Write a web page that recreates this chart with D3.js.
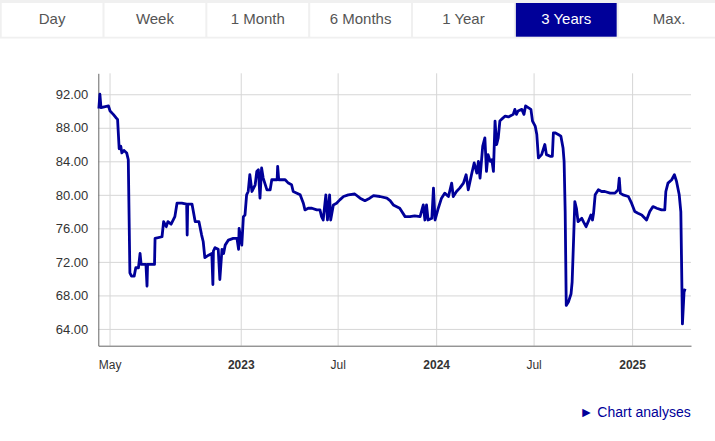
<!DOCTYPE html>
<html>
<head>
<meta charset="utf-8">
<script src="https://cdn.jsdelivr.net/npm/d3@7"></script>
<style>
  body { margin: 0; background: #fff; font-family: Arial, "Liberation Sans", sans-serif; }
</style>
</head>
<body>
<div class="container"></div>
<script>
// period buttons above the chart
var tabs = ["Day", "Week", "1 Month", "6 Months", "1 Year", "3 Years", "Max."];
var activeTab = "3 Years";

// price history
var dates = [
  "2022-04-11","2022-04-13","2022-04-15","2022-04-21","2022-04-29","2022-05-02","2022-05-08","2022-05-13","2022-05-16","2022-05-19",
  "2022-05-22","2022-05-24","2022-05-28","2022-06-02","2022-06-05","2022-06-08","2022-06-11","2022-06-16","2022-06-19","2022-06-24",
  "2022-06-27","2022-06-29","2022-07-08","2022-07-10","2022-07-11","2022-07-24","2022-07-25","2022-08-07","2022-08-10","2022-08-15",
  "2022-08-18","2022-08-24","2022-08-31","2022-09-04","2022-09-13","2022-09-22","2022-09-23","2022-09-24","2022-10-02","2022-10-08",
  "2022-10-15","2022-10-20","2022-10-23","2022-10-26","2022-11-02","2022-11-08","2022-11-10","2022-11-11","2022-11-14","2022-11-20",
  "2022-11-23","2022-11-27","2022-11-30","2022-12-03","2022-12-09","2022-12-18","2022-12-25","2022-12-28","2022-12-29","2023-01-03",
  "2023-01-06","2023-01-09","2023-01-12","2023-01-15","2023-01-18","2023-01-22","2023-01-25","2023-01-28","2023-01-31","2023-02-03",
  "2023-02-06","2023-02-09","2023-02-12","2023-02-19","2023-02-25","2023-02-28","2023-03-10","2023-03-11","2023-03-13","2023-03-25",
  "2023-03-31","2023-04-06","2023-04-09","2023-04-16","2023-04-22","2023-04-28","2023-05-01","2023-05-07","2023-05-14","2023-05-23",
  "2023-05-29","2023-06-01","2023-06-04","2023-06-09","2023-06-12","2023-06-16","2023-06-18","2023-06-23","2023-06-29","2023-07-05",
  "2023-07-12","2023-07-21","2023-08-02","2023-08-12","2023-08-21","2023-08-30","2023-09-06","2023-09-18","2023-10-01","2023-10-07",
  "2023-10-13","2023-10-25","2023-11-04","2023-11-13","2023-11-22","2023-12-02","2023-12-08","2023-12-11","2023-12-14","2023-12-17",
  "2023-12-24","2023-12-27","2023-12-30","2024-01-05","2024-01-11","2024-01-17","2024-01-24","2024-01-30","2024-02-02","2024-02-08",
  "2024-02-14","2024-02-21","2024-02-26","2024-03-01","2024-03-07","2024-03-12","2024-03-17","2024-03-20","2024-03-23","2024-03-28",
  "2024-04-01","2024-04-04","2024-04-07","2024-04-11","2024-04-14","2024-04-17","2024-04-20","2024-04-23","2024-04-26","2024-04-29",
  "2024-05-02","2024-05-09","2024-05-15","2024-05-24","2024-05-27","2024-05-30","2024-06-02","2024-06-09","2024-06-13","2024-06-16",
  "2024-06-21","2024-06-26","2024-06-29","2024-07-04","2024-07-07","2024-07-10","2024-07-16","2024-07-22","2024-07-25","2024-08-01",
  "2024-08-05","2024-08-07","2024-08-10","2024-08-16","2024-08-21","2024-08-25","2024-08-27","2024-08-29","2024-08-31","2024-09-04",
  "2024-09-09","2024-09-11","2024-09-14","2024-09-16","2024-09-19","2024-09-22","2024-09-29","2024-10-02","2024-10-07","2024-10-11",
  "2024-10-16","2024-10-19","2024-10-21","2024-10-24","2024-10-30","2024-11-05","2024-11-11","2024-11-21","2024-11-30","2024-12-06",
  "2024-12-08","2024-12-10","2024-12-15","2024-12-25","2024-12-31","2025-01-06","2025-01-12","2025-01-19","2025-01-28","2025-02-03",
  "2025-02-09","2025-02-16","2025-02-25","2025-03-03","2025-03-05","2025-03-09","2025-03-16","2025-03-21","2025-03-25","2025-03-30",
  "2025-04-02","2025-04-03","2025-04-05","2025-04-08","2025-04-10"
];
var prices = [
  90.3, 92.0, 90.4, 90.5, 90.6, 90.0, 89.6, 89.2, 89.0, 85.5,
  85.8, 85.0, 85.3, 85.0, 84.2, 70.7, 70.3, 70.3, 71.3, 71.3,
  73.0, 71.7, 71.7, 69.1, 71.7, 71.7, 74.8, 75.0, 76.8, 76.2,
  76.8, 76.5, 77.4, 79.0, 79.0, 78.9, 75.2, 78.9, 78.9, 76.8,
  76.8, 75.2, 74.4, 72.5, 72.8, 73.0, 69.3, 73.3, 73.7, 73.5,
  69.9, 73.5, 73.0, 74.0, 74.6, 74.8, 74.8, 73.5, 76.0, 74.0,
  77.4, 77.6, 80.0, 80.4, 82.4, 80.4, 80.8, 81.2, 82.8, 83.0,
  79.6, 83.2, 82.0, 80.6, 80.6, 81.8, 81.8, 83.4, 81.8, 81.8,
  81.4, 81.2, 80.4, 80.2, 80.0, 79.0, 78.2, 78.4, 78.4, 78.2,
  78.2, 77.4, 77.0, 80.0, 77.0, 80.0, 77.0, 78.8, 79.0, 79.4,
  79.8, 80.0, 80.1, 79.6, 79.3, 79.6, 79.9, 79.8, 79.6, 79.3,
  78.8, 78.4, 77.4, 77.4, 77.5, 77.4, 78.8, 77.0, 78.8, 77.0,
  77.2, 80.8, 77.0, 78.4, 79.6, 80.2, 79.8, 81.4, 79.8, 80.4,
  80.8, 81.4, 82.4, 80.6, 82.4, 83.8, 82.6, 84.0, 82.0, 85.8,
  86.8, 82.8, 84.8, 84.0, 84.2, 82.8, 88.8, 86.0, 86.8, 88.8,
  89.0, 89.4, 89.3, 89.6, 90.2, 89.6, 90.0, 90.2, 89.6, 90.6,
  90.4, 90.2, 88.8, 88.2, 87.2, 84.4, 84.8, 86.0, 84.8, 84.6,
  84.6, 87.4, 87.4, 87.2, 87.0, 85.6, 84.0, 78.0, 66.8, 67.2,
  68.2, 69.6, 75.2, 79.2, 78.4, 76.8, 77.2, 76.8, 76.2, 76.8,
  77.6, 77.0, 77.8, 80.0, 80.6, 80.4, 80.4, 80.2, 80.2, 80.6,
  82.0, 80.2, 80.0, 79.8, 79.0, 78.0, 77.8, 77.6, 77.0, 78.0,
  78.6, 78.4, 78.2, 78.2, 80.4, 81.4, 81.8, 82.4, 81.6, 80.0,
  78.0, 73.6, 64.6, 68.4, 68.8
];

// axis settings
var xStart = "2022-04-10", xEnd = "2025-04-21";
var xTickDates = ["2022-05-01", "2023-01-01", "2023-07-01", "2024-01-01", "2024-07-01", "2025-01-01"];
var xTickLabels = ["May", "2023", "Jul", "2024", "Jul", "2025"];
var yTicks = [64, 68, 72, 76, 80, 84, 88, 92];
var yMin = 62, yMax = 94.5;

var width = 715,
    height = 441;

var blue = "#000099";
var parse = d3.timeParse("%Y-%m-%d");

var data = dates.map(function(d, i) {
    return { date: parse(d), price: prices[i] };
});

var svg = d3.select(".container")
    .append("svg")
    .attr("width", width)
    .attr("height", height)
    .style("display", "block");

// tab bar
svg.append("rect")
    .attr("x", 0).attr("y", 0)
    .attr("width", width).attr("height", 38.5)
    .attr("fill", "#f0f0f0");

var band = d3.scaleBand()
    .domain(tabs)
    .range([1.7, 719.5])
    .paddingInner(0.02);

var tab = svg.selectAll("g.tab")
    .data(tabs)
    .enter()
    .append("g")
    .attr("class", "tab")
    .attr("transform", function(d) { return "translate(" + band(d) + ",3)"; });

tab.append("rect")
    .attr("width", band.bandwidth())
    .attr("height", 33.7)
    .attr("fill", function(d) { return d === activeTab ? blue : "#fff"; });

tab.append("text")
    .attr("x", band.bandwidth() / 2)
    .attr("y", 21)
    .attr("text-anchor", "middle")
    .style("font-size", "15px")
    .attr("fill", function(d) { return d === activeTab ? "#fff" : "#555"; })
    .text(function(d) { return d; });

// plot area (names avoid window.top)
var plotLeft = 98.3, plotRight = 691, plotTop = 73.3, plotBottom = 345.7;

var x = d3.scaleTime()
    .domain([parse(xStart), parse(xEnd)])
    .range([plotLeft, plotRight]);

var y = d3.scaleLinear()
    .domain([yMin, yMax])
    .range([plotBottom, plotTop]);

var yAxis = svg.append("g")
    .attr("transform", "translate(" + plotLeft + ",0)")
    .call(d3.axisLeft(y)
        .tickValues(yTicks)
        .tickSize(-(plotRight - plotLeft))
        .tickSizeOuter(0)
        .tickPadding(10)
        .tickFormat(d3.format(".2f")));

var xAxis = svg.append("g")
    .attr("transform", "translate(0," + plotBottom + ")")
    .call(d3.axisBottom(x)
        .tickValues(xTickDates.map(parse))
        .tickSize(-(plotBottom - plotTop))
        .tickSizeOuter(0)
        .tickPadding(15)
        .tickFormat(function(d, i) { return xTickLabels[i]; }));

[xAxis, yAxis].forEach(function(ax) {
    ax.selectAll(".tick line").attr("stroke", "#d6d6d6");
    ax.select(".domain").attr("stroke", "#666");
    ax.selectAll("text")
        .attr("fill", "#333")
        .style("font-family", "Arial, 'Liberation Sans', sans-serif");
});
yAxis.selectAll("text").style("font-size", "13px");
xAxis.selectAll("text")
    .style("font-size", "12px")
    .style("font-weight", function(d, i) { return /^\d{4}$/.test(xTickLabels[i]) ? "bold" : "normal"; });

// keep the axis lines above the grid
xAxis.select(".domain").raise();
yAxis.raise();
yAxis.selectAll(".tick").lower();

var line = d3.line()
    .x(function(d) { return x(d.date); })
    .y(function(d) { return y(d.price); });

svg.append("path")
    .datum(data)
    .attr("d", line)
    .attr("fill", "none")
    .attr("stroke", blue)
    .attr("stroke-width", 2.8)
    .attr("stroke-linejoin", "round");

// link under the chart
svg.append("text")
    .attr("x", 690.7)
    .attr("y", 417)
    .attr("text-anchor", "end")
    .style("font-size", "14px")
    .attr("fill", blue)
    .text("\u25BA Chart analyses");
</script>
</body>
</html>
